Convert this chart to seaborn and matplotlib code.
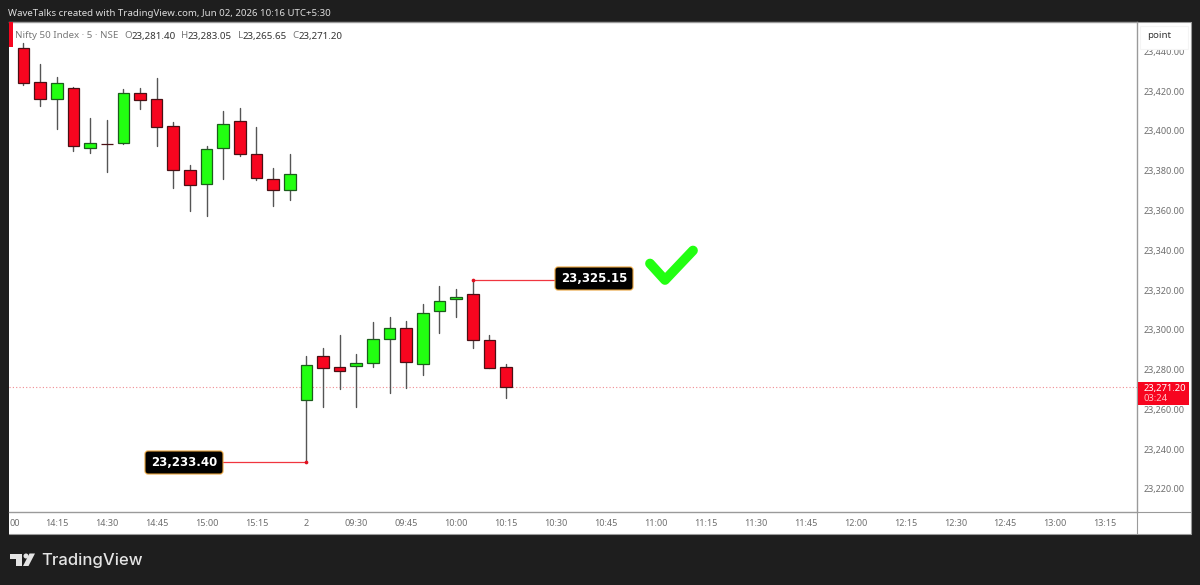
import numpy as np
import pandas as pd
import matplotlib
matplotlib.use("Agg")
import matplotlib.pyplot as plt
import seaborn as sns
from matplotlib.patches import FancyBboxPatch, Polygon, Rectangle, Circle

opens = [23441.4, 23424.5, 23416.1, 23421.5, 23391.5, 23393.5, 23393.7, 23418.8, 23416.1, 23402.4,
         23380.3, 23373.1, 23391.5, 23405.1, 23388.3, 23375.9, 23370.4,
         23264.9, 23286.8, 23281.1, 23281.6, 23283.1, 23295.2, 23301.1, 23282.8, 23309.3, 23315.6,
         23318.0, 23294.9, 23281.4]
highs = [23444.3, 23433.4, 23427.2, 23421.8, 23406.3, 23405.4, 23421.0, 23421.3, 23426.4, 23404.6,
         23382.6, 23392.4, 23410.0, 23411.3, 23401.9, 23381.5, 23388.5,
         23286.8, 23290.7, 23297.4, 23288.0, 23304.1, 23306.6, 23304.4, 23313.0, 23322.0, 23320.3,
         23325.15, 23297.6, 23283.05]
lows = [23422.8, 23412.5, 23400.7, 23390.0, 23389.0, 23379.3, 23393.5, 23410.8, 23392.4, 23371.1,
        23359.7, 23357.4, 23375.6, 23387.3, 23375.1, 23362.4, 23365.2,
        23233.4, 23261.4, 23270.4, 23261.2, 23281.1, 23268.1, 23270.8, 23277.5, 23298.6, 23306.3,
        23290.9, 23280.8, 23265.65]
closes = [23424.2, 23415.8, 23424.2, 23392.2, 23394.0, 23393.2, 23418.8, 23415.3, 23401.9, 23380.5,
          23372.8, 23390.7, 23403.4, 23388.5, 23376.1, 23370.1, 23378.3,
          23282.5, 23280.6, 23279.3, 23283.1, 23295.2, 23301.1, 23283.7, 23308.6, 23314.6, 23316.6,
          23294.9, 23280.8, 23271.2]
time_labels = ["14:15", "14:30", "14:45", "15:00", "15:15", "2", "09:30", "09:45", "10:00",
               "10:15", "10:30", "10:45", "11:00", "11:15", "11:30", "11:45", "12:00", "12:15",
               "12:30", "12:45", "13:00", "13:15"]
price_ticks = [23220, 23240, 23260, 23280, 23300, 23320, 23340, 23360, 23380, 23400, 23420, 23440]
last_price = 23271.20
low_mark = 23233.40
high_mark = 23325.15

UP = "#22ff11"
DOWN = "#f7051f"
DARK = "#1e1e1e"
GREY = "#6e6e6e"
FRAME = "#9a9a9a"

sns.set_theme(style="white")
plt.rcParams["font.family"] = ["Noto Sans", "DejaVu Sans"]

df = pd.DataFrame({"open": opens, "high": highs, "low": lows, "close": closes})
df["idx"] = np.arange(len(df))
df["body"] = (df["close"] - df["open"]).abs()
df["bottom"] = df[["open", "close"]].min(axis=1)
rising = df[df["close"] >= df["open"]]
falling = df[df["close"] < df["open"]]
wicks = df.melt(id_vars="idx", value_vars=["high", "low"], value_name="price")

fig = plt.figure(figsize=(12, 5.85), dpi=100, facecolor=DARK)

# white panel behind the plot and its two scales
bg = fig.add_axes([0, 0, 1, 1], facecolor="none", zorder=0)
bg.set_xlim(0, 1200)
bg.set_ylim(585, 0)
bg.axis("off")
bg.add_patch(Rectangle((9, 22), 1182, 512, fc="white", ec="none"))
bg.plot([9, 1191, 1191, 9], [22, 22, 534, 534], color=FRAME, lw=0.8)

ax = fig.add_axes([9 / 1200, 73 / 585, 1128 / 1200, 490 / 585], facecolor="white", zorder=1)

sns.lineplot(data=wicks, x="idx", y="price", units="idx", estimator=None, sort=False,
             color="#555555", lw=1.0, ax=ax, legend=False, zorder=1)
sns.barplot(data=rising, x="idx", y="body", bottom=rising["bottom"], native_scale=True, width=0.7,
            color=UP, saturation=1, edgecolor="#1c5c1c", linewidth=0.9, errorbar=None, ax=ax, zorder=2)
sns.barplot(data=falling, x="idx", y="body", bottom=falling["bottom"], native_scale=True, width=0.7,
            color=DOWN, saturation=1, edgecolor="#4a1015", linewidth=0.9, errorbar=None, ax=ax, zorder=2)

ax.axhline(last_price, color="#f08a90", lw=0.8, ls=(0, (1, 2)), zorder=0)

# leader lines out to the two callouts
ax.plot([17, 10], [low_mark, low_mark], color="#f0353f", lw=0.9, zorder=1)
ax.plot([27, 34], [high_mark, high_mark], color="#f0353f", lw=0.9, zorder=1)
sns.scatterplot(x=[17, 27], y=[low_mark, high_mark], color="#e0101f", s=7, linewidth=0, ax=ax, zorder=3)

ax.set_xlabel("")
ax.set_ylabel("")
ax.set_xticks(np.arange(2, 66, 3))
ax.set_xticklabels(time_labels)
ax.set_yticks(price_ticks)
ax.set_yticklabels([f"{p:,.2f}" for p in price_ticks])
ax.set_xlim(-0.871, 66.92)
ax.set_ylim(23208.44, 23454.7)
ax.yaxis.tick_right()
ax.tick_params(axis="x", length=0, pad=5, labelsize=6.5, labelcolor=GREY)
ax.tick_params(axis="y", length=0, pad=5, labelsize=6.5, labelcolor=GREY)
for s in ax.spines.values():
    s.set_color(FRAME)
    s.set_linewidth(1)
ax.spines["left"].set_visible(False)

# everything round the plot is laid out in image pixels
ov = fig.add_axes([0, 0, 1, 1], facecolor="none", zorder=2)
ov.set_xlim(0, 1200)
ov.set_ylim(585, 0)
ov.axis("off")

ov.plot([1137, 1191], [512, 512], color=FRAME, lw=0.8, zorder=1)
ov.plot([1137, 1137], [512, 534], color=FRAME, lw=0.8, zorder=1)

ov.text(8, 13, "WaveTalks created with TradingView.com, Jun 02, 2026 10:16 UTC+5:30",
        color="#dddddd", fontsize=6.95, va="center")

ov.text(9, 523, "00", color=GREY, fontsize=6.5, va="center")

ov.add_patch(Rectangle((9, 22), 4, 25, fc=DOWN, ec="none", zorder=3))
ov.text(15, 36, "Nifty 50 Index · 5 · NSE", color="#787878", fontsize=7, va="center")
for xl, xv, letter, val in [(124, 132, "O", "23,281.40"), (181, 188, "H", "23,283.05"),
                            (238, 243, "L", "23,265.65"), (292, 299, "C", "23,271.20")]:
    ov.text(xl, 36, letter, color="#787878", fontsize=7, va="center")
    ov.text(xv, 36, val, color="#333333", fontsize=7, va="center")

ov.add_patch(Rectangle((1140, 26), 48, 23, fc="white", ec="#f4f4f4", lw=0.8, zorder=3))
ov.text(1147, 36, "point", color="#333333", fontsize=7, va="center", zorder=4)

ov.add_patch(Rectangle((1137.5, 382), 51, 23, fc=DOWN, ec="none", zorder=3))
ov.text(1144, 388, f"{last_price:,.2f}", color="white", fontsize=6.8, weight="bold", va="center", zorder=4)
ov.text(1144, 398.5, "03:24", color="#ffc0c4", fontsize=6.8, va="center", zorder=4)

for x0, y0, txt in [(145, 451, "23,233.40"), (555, 267, "23,325.15")]:
    ov.add_patch(FancyBboxPatch((x0 + 2, y0 + 2), 74, 19, boxstyle="round,pad=2,rounding_size=3",
                                fc="black", ec="#e8a33c", lw=0.8, zorder=3))
    ov.text(x0 + 39, y0 + 11.5, txt, color="white", fontsize=8.5, weight="bold", family="DejaVu Sans",
            ha="center", va="center", zorder=4)

ov.plot([650, 665, 693], [263.5, 280, 250.5], color=UP, lw=7, solid_capstyle="round",
        solid_joinstyle="round", zorder=3)

# TradingView logo and wordmark
logo = "#e4e4e4"
ov.add_patch(Polygon([(10, 553.5), (22, 553.5), (22, 566), (15.5, 566), (15.5, 558.5), (10, 558.5)],
                     fc=logo, ec="none"))
ov.add_patch(Circle((26, 556), 2.5, fc=logo, ec="none"))
ov.add_patch(Polygon([(29.5, 553.5), (35, 553.5), (28.5, 566), (23, 566)], fc=logo, ec="none"))
ov.text(41, 560, "TradingView", color=logo, fontsize=12, family="Inter", weight="medium", va="center")

fig.savefig("out.png", dpi=100, facecolor=DARK)
